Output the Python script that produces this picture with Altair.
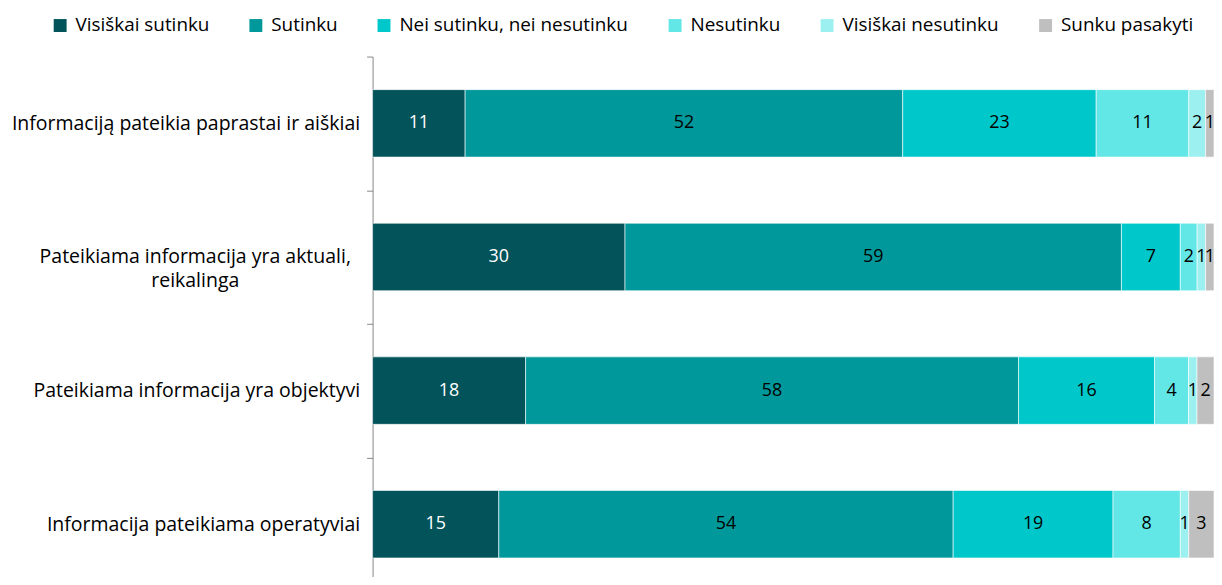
import altair as alt
import pandas as pd

categories = [
    "Informaciją pateikia paprastai ir aiškiai",
    "Pateikiama informacija yra aktuali, reikalinga",
    "Pateikiama informacija yra objektyvi",
    "Informacija pateikiama operatyviai",
]
series = [
    "Visiškai sutinku",
    "Sutinku",
    "Nei sutinku, nei nesutinku",
    "Nesutinku",
    "Visiškai nesutinku",
    "Sunku pasakyti",
]
colors = ["#02535A", "#00989A", "#00C8CA", "#62E6E6", "#9CF0F0", "#BFBFBF"]

visiskai_sutinku = [11, 30, 18, 15]
sutinku = [52, 59, 58, 54]
nei = [23, 7, 16, 19]
nesutinku = [11, 2, 4, 8]
visiskai_nesutinku = [2, 1, 1, 1]
sunku = [1, 1, 2, 3]

all_vals = [visiskai_sutinku, sutinku, nei, nesutinku, visiskai_nesutinku, sunku]
rows = []
for si, (s, vals) in enumerate(zip(series, all_vals)):
    for c, v in zip(categories, vals):
        rows.append({"cat": c, "series": s, "ord": si, "v": v})
df = pd.DataFrame(rows)

FONT = "Open Sans"
wrap_label = categories[1]

base = alt.Chart(df)

ycat = alt.Y(
    "cat:N",
    sort=categories,
    title=None,
    scale=alt.Scale(paddingInner=0, paddingOuter=0, range=[0, 538]),
    axis=alt.Axis(
        tickBand="extent",
        tickSize=6,
        tickColor="#868686",
        domainColor="#868686",
        labelFontSize=19.6,
        labelFont=FONT,
        labelColor="#000000",
        labelLimit=0,
        labelLineHeight=24,
        labelAlign=alt.condition(f"datum.value == '{wrap_label}'", alt.value("center"), alt.value("right")),
        labelPadding=alt.condition(f"datum.value == '{wrap_label}'", alt.value(173), alt.value(7)),
        labelExpr=f"datum.label == '{wrap_label}' ? ['Pateikiama informacija yra aktuali,', 'reikalinga'] : datum.label",
    ),
)

bars = base.mark_bar(height=alt.RelativeBandSize(0.505), stroke="white", strokeWidth=0.6).encode(
    x=alt.X("v:Q", stack="normalize", scale=alt.Scale(domain=[0, 1], nice=False), axis=None),
    y=ycat,
    color=alt.Color(
        "series:N",
        scale=alt.Scale(domain=series, range=colors),
        legend=alt.Legend(
            title=None,
            orient="none",
            legendX=-324,
            legendY=-41,
            direction="horizontal",
            symbolType="square",
            symbolSize=169,
            symbolStrokeWidth=0,
            labelFontSize=19,
            labelFont=FONT,
            labelColor="#000000",
            labelOffset=6,
            columnPadding=37,
            padding=0,
            labelLimit=0,
        ),
    ),
    order=alt.Order("ord:Q", sort="ascending"),
)

labels = base.transform_joinaggregate(
    total="sum(v)", groupby=["cat"]
).transform_window(
    cum="sum(v)", sort=[alt.SortField("ord")], groupby=["cat"], frame=[None, 0]
).transform_calculate(
    mid="(datum.cum - datum.v / 2) / datum.total"
).mark_text(fontSize=18, font=FONT, baseline="middle", align="center").encode(
    x=alt.X("mid:Q", scale=alt.Scale(domain=[0, 1], nice=False), axis=None),
    y=ycat,
    text=alt.Text("v:Q"),
    color=alt.condition("datum.ord == 0", alt.value("white"), alt.value("black")),
)

chart = alt.layer(bars, labels).properties(
    width=847,
    height=522,
    autosize=alt.AutoSizeParams(type="none"),
    padding={"left": 367, "top": 47, "right": 0, "bottom": 0},
).configure_view(stroke=None)

chart.save("out.html", embed_options={"renderer": "svg", "actions": False})
